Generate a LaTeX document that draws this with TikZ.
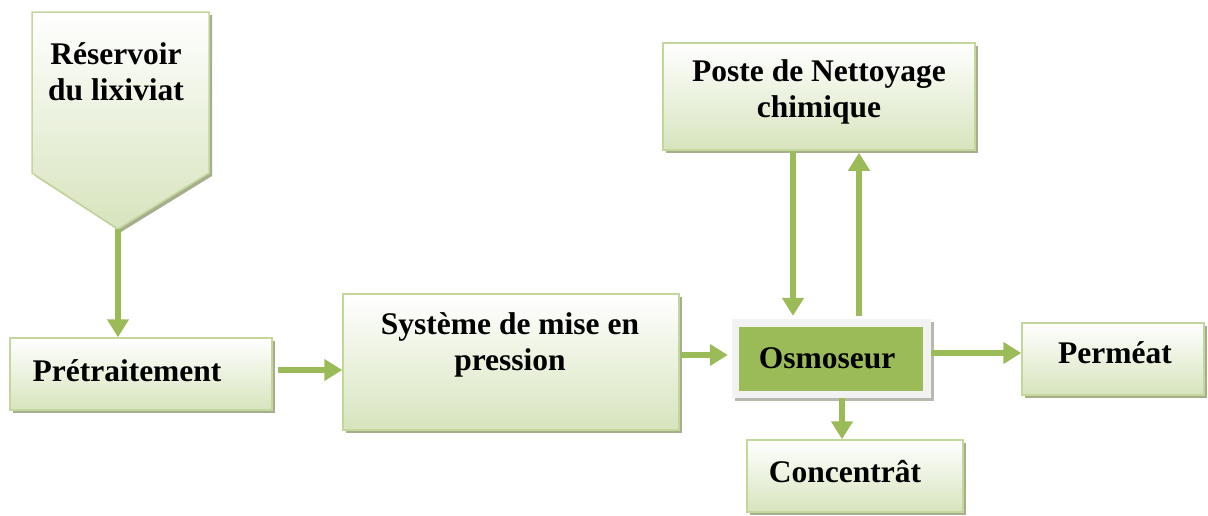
\documentclass[tikz,border=0pt]{standalone}
\usepackage{fontspec}
\setmainfont{Liberation Serif}
\usetikzlibrary{arrows.meta,shadows,calc}
\definecolor{arrowc}{HTML}{9BBB59}
\definecolor{edgec}{HTML}{C3D69B}
\definecolor{fillc}{HTML}{D7E4BD}
\definecolor{shadowc}{HTML}{A7AE8E}
\definecolor{greyc}{HTML}{F2F2F2}
\definecolor{greysh}{HTML}{B8B9AE}
\begin{document}
\begin{tikzpicture}[x=1pt,y=-1pt,
  box/.style={rectangle,draw=edgec,line width=1.5pt,top color=white,bottom color=fillc,inner sep=0pt,
    drop shadow={shadow xshift=3pt,shadow yshift=-3pt,fill=shadowc,opacity=1}},
  lbl/.style={font=\bfseries\fontsize{31.5}{36}\selectfont,align=center,inner sep=0pt,anchor=base},
  flow/.style={draw=arrowc,line width=6pt,-{Triangle[width=21pt,length=18pt]}}]
\useasboundingbox (0,0) rectangle (1208,515);

% Reservoir (pentagon)
\begin{scope}[shift={(3,3)}]
  \fill[shadowc] (32,12) -- (209,12) -- (209,173) -- (118,229) -- (32,173) -- cycle;
\end{scope}
\path[draw=edgec,line width=1.5pt,top color=white,bottom color=fillc]
  (32,12) -- (209,12) -- (209,173) -- (118,229) -- (32,173) -- cycle;
\coordinate (rtip) at (118,229);
\node[lbl] (res) at (116,100) {Réservoir\\du lixiviat};

% Pretraitement
\node[box,minimum width=262pt,minimum height=72pt] (pre) at (141,374) {};
\node[lbl] (pre-t) at (127,381) {Prétraitement};

% Systeme
\node[box,minimum width=336pt,minimum height=136pt] (sys) at (511,362) {};
\node[lbl] (sys-t) at (510,370) {Système de mise en\\pression};

% Poste
\node[box,minimum width=312pt,minimum height=107pt] (poste) at (819,96.5) {};
\node[lbl] (poste-t) at (819,117) {Poste de Nettoyage\\chimique};

% Osmoseur
\node[rectangle,fill=greyc,inner sep=0pt,minimum width=199pt,minimum height=79pt,
  drop shadow={shadow xshift=3pt,shadow yshift=-3pt,fill=greysh,opacity=1}] (osmo) at (831.5,358.5) {};
\node[rectangle,fill=arrowc,inner sep=0pt,minimum width=184pt,minimum height=64pt] (osmo-in) at (831,359) {};
\node[lbl] (osmo-t) at (827,368) {Osmoseur};

% Permeat
\node[box,minimum width=182pt,minimum height=72pt] (per) at (1113,359) {};
\node[lbl] (per-t) at (1115,363) {Perméat};

% Concentrat
\node[box,minimum width=216pt,minimum height=72pt] (con) at (855,476) {};
\node[lbl] (con-t) at (845,482) {Concentrât};

% Connectors
\draw[flow] (rtip) -- (rtip |- pre.north);
\draw[flow] ($(pre.east)+(5,-4)$) -- ($(pre.east -| sys.west)+(0,-4)$);
\draw[flow] ($(sys.east)+(1,-7)$) -- ($(sys.east -| osmo.west)+(-4,-7)$);
\draw[flow] ($(osmo.east)+(0,-5.5)$) -- ($(osmo.east -| per.west)+(0,-5.5)$);
\draw[flow] ($(osmo.south)+(10.5,0)$) -- ($(osmo.south |- con.north)+(10.5,0)$);
\draw[flow] ($(poste.south)+(-26,0)$) -- ($(poste.south |- osmo.north)+(-26,-3)$);
\draw[flow] ($(osmo.north)+(27.5,-3)$) -- ($(osmo.north |- poste.south)+(27.5,2)$);
\end{tikzpicture}
\end{document}
